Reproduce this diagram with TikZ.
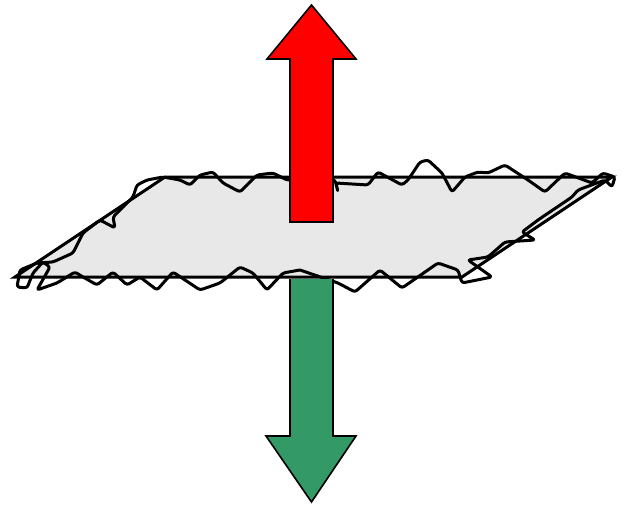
\documentclass[tikz,border=0pt]{standalone}
\begin{document}
\begin{tikzpicture}[x=1pt,y=-1pt,
  sheet/.style={fill=black!9, draw=black, line width=3pt, line join=miter},
  rough/.style={draw=black, line width=3pt, line join=round, line cap=round, rounded corners=2.5pt},
  bigarrow/.style={draw=black, line width=1.6pt, line join=miter}]
\useasboundingbox (0,0) rectangle (625,506);
\definecolor{upred}{RGB}{255,0,0}
\definecolor{downgreen}{RGB}{51,153,102}

% the flat surface
\coordinate (bl) at (15,277);
\coordinate (br) at (462,277);
\coordinate (tr) at (612,177);
\coordinate (tl) at (165,177);
\path[sheet] (bl) -- (br) -- (tr) -- (tl) -- cycle;

% rough outline around the surface
\draw[rough]
  (300,270) -- (283,273) -- (267,290) -- (253,273) -- (240,267) -- (220,283)
  -- (200,290) -- (173,272) -- (157,290) -- (140,277) -- (127,285) -- (113,272)
  -- (97,285) -- (83,277) -- (75,272) -- (57,283) -- (37,290) -- (50,267)
  -- (43,262) -- (33,273) -- (27,288) -- (17,287) -- (20,270) -- (37,263)
  -- (53,262) -- (73,253) -- (83,233) -- (100,220) -- (115,228) -- (113,217)
  -- (127,203) -- (133,197) -- (137,185) -- (147,180) -- (163,177) -- (180,180)
  -- (190,185) -- (200,175) -- (213,172) -- (223,183) -- (240,192) -- (257,175)
  -- (273,173) -- (287,180) -- (335,180) -- (338,192) -- (336,183) -- (368,185)
  -- (378,172) -- (402,185) -- (408,180) -- (420,162) -- (428,160) -- (442,173)
  -- (452,192) -- (465,177) -- (478,172) -- (488,173) -- (505,165) -- (528,180)
  -- (545,192) -- (565,173) -- (592,183) -- (603,173) -- (615,177) -- (612,187)
  -- (605,180) -- (578,190) -- (572,197) -- (538,220) -- (522,232) -- (535,240)
  -- (505,242) -- (488,257) -- (468,260) -- (492,277) -- (462,283) -- (458,270)
  -- (438,263) -- (402,288) -- (380,270) -- (355,292) -- (338,283) -- (300,270);

% upward arrow
\draw[bigarrow, fill=upred]
  (290,222) coordinate (upbase) -- (290,59) -- (267,59) -- (311.5,5) coordinate (uptip)
  -- (356,59) -- (333,59) -- (333,222) -- cycle;

% downward arrow
\draw[bigarrow, fill=downgreen]
  (290,279) coordinate (downbase) -- (290,436) -- (266,436) -- (311.5,502) coordinate (downtip)
  -- (356,436) -- (333,436) -- (333,279);
\end{tikzpicture}
\end{document}
